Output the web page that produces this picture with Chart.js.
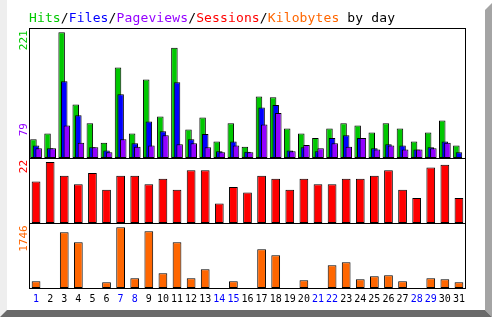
<!DOCTYPE html>
<html>
<head>
<meta charset="utf-8">
<script src="https://cdn.jsdelivr.net/npm/chart.js@4/dist/chart.umd.min.js"></script>
<style>
  body { margin: 0; background: #fff; }
  #wrap { position: relative; width: 492px; height: 317px; overflow: hidden; }
  #grafico { display: block; }
  #titulo {
    position: absolute; left: 29px; top: 11px;
    font: 13px "DejaVu Sans Mono", monospace; line-height: 13px;
    white-space: pre; letter-spacing: 0.13px; color: #000;
  }
</style>
</head>
<body>
<div id="wrap">
  <canvas id="grafico" width="492" height="317"></canvas>
  <div id="titulo"><span style="color:#00c800">Hits</span>/<span style="color:#0000ff">Files</span>/<span style="color:#9400ff">Pageviews</span>/<span style="color:#ff0000">Sessions</span>/<span style="color:#ff6600">Kilobytes</span> by day</div>
</div>
<script>
// datos
const dias = ["1","2","3","4","5","6","7","8","9","10","11","12","13","14","15","16",
  "17","18","19","20","21","22","23","24","25","26","27","28","29","30","31"];
const finesDeSemana = [1, 7, 8, 14, 15, 21, 22, 28, 29];

const hits = [33, 43, 221, 94, 61, 27, 159, 43, 138, 73, 194, 50, 71, 29, 61, 20,
  108, 107, 52, 43, 35, 52, 61, 57, 45, 61, 52, 29, 45, 66, 22];
const files = [22, 17, 135, 75, 19, 13, 112, 26, 64, 47, 133, 33, 42, 12, 29, 11,
  89, 93, 13, 19, 12, 35, 40, 35, 17, 24, 22, 15, 19, 29, 10];
const pageviews = [17, 17, 57, 27, 19, 10, 33, 20, 22, 40, 24, 26, 19, 10, 22, 10,
  59, 79, 12, 23, 17, 26, 20, 35, 15, 22, 15, 15, 17, 27, 0];
const sessions = [15, 22, 17, 14, 18, 12, 17, 17, 14, 16, 12, 19, 19, 7, 13, 11,
  17, 16, 12, 16, 14, 14, 16, 16, 17, 19, 12, 9, 20, 21, 9];
const kilobytes = [193, 0, 1603, 1315, 0, 164, 1746, 279, 1632, 423, 1315, 279, 538, 0, 193, 0,
  1114, 941, 0, 222, 0, 653, 740, 250, 337, 366, 193, 0, 279, 250, 164];

const VERDE = "#00c800", AZUL = "#0000ff", MORADO = "#9400ff", ROJO = "#ff0000", NARANJA = "#ff6600";

// marco gris tipo 3D alrededor de la imagen
const marco = {
  id: "marco",
  beforeDraw(chart) {
    const ctx = chart.ctx;
    const poly = (pts, color) => {
      ctx.fillStyle = color;
      ctx.beginPath();
      pts.forEach(([x, y], i) => i ? ctx.lineTo(x, y) : ctx.moveTo(x, y));
      ctx.closePath();
      ctx.fill();
    };
    ctx.save();
    poly([[0, 0], [7, 0], [7, 310], [0, 317]], "#eeeeee");
    poly([[485, 10], [492, 3], [492, 317], [485, 310]], "#a4a4a4");
    poly([[0, 317], [7, 310], [485, 310], [492, 317]], "#6a6a6a");
    ctx.restore();
  }
};

// dibujar las series en orden: hits abajo, pageviews encima
const ordenDibujo = {
  id: "ordenDibujo",
  beforeDatasetsDraw(chart) {
    const metas = chart.getSortedVisibleDatasetMetas().slice().sort((a, b) => a.index - b.index);
    metas.forEach(m => m.controller.draw());
    return false;
  }
};

// bordes negros de los tres paneles
const paneles = {
  id: "paneles",
  afterDraw(chart) {
    const ctx = chart.ctx;
    const a = chart.chartArea;
    ctx.save();
    ctx.strokeStyle = "#000";
    ctx.lineWidth = 1;
    ["yTop", "yMid", "yBot"].forEach(id => {
      const s = chart.scales[id];
      ctx.strokeRect(a.left + 0.5, s.top + 0.5, a.right - a.left - 1, s.bottom - s.top);
    });
    ctx.restore();
  }
};

// etiquetas verticales con el valor maximo de cada serie
const maximos = {
  id: "maximos",
  afterDraw(chart) {
    const ctx = chart.ctx;
    const etiquetas = [
      { valor: Math.max(...hits), color: VERDE, eje: "yTop", ajuste: -2 },
      { valor: Math.max(...pageviews), color: MORADO, eje: "yTop", ajuste: 10 },
      { valor: Math.max(...sessions), color: ROJO, eje: "yMid", ajuste: -2 },
      { valor: Math.max(...kilobytes), color: NARANJA, eje: "yBot", ajuste: -2 }
    ];
    ctx.save();
    ctx.font = '11px "DejaVu Sans Mono", monospace';
    ctx.textAlign = "right";
    ctx.textBaseline = "alphabetic";
    etiquetas.forEach(e => {
      const y = chart.scales[e.eje].getPixelForValue(e.valor) + e.ajuste;
      ctx.save();
      ctx.translate(27, y);
      ctx.rotate(-Math.PI / 2);
      ctx.fillStyle = e.color;
      ctx.fillText(String(e.valor), 0, 0);
      ctx.restore();
    });
    ctx.restore();
  }
};

const barrasDia = { borderColor: "#000", borderWidth: 1, borderSkipped: false,
  categoryPercentage: 0.555, barPercentage: 2.5, yAxisID: "yTop" };
const barrasSolas = { borderColor: "#000", borderWidth: 1, borderSkipped: false,
  grouped: false, categoryPercentage: 1, barPercentage: 0.62 };

new Chart(document.getElementById("grafico"), {
  type: "bar",
  data: {
    labels: dias,
    datasets: [
      { ...barrasDia, label: "Hits", data: hits, backgroundColor: VERDE },
      { ...barrasDia, label: "Files", data: files, backgroundColor: AZUL },
      { ...barrasDia, label: "Pageviews", data: pageviews, backgroundColor: MORADO },
      { ...barrasSolas, label: "Sessions", data: sessions, backgroundColor: ROJO, yAxisID: "yMid" },
      { ...barrasSolas, label: "Kilobytes", data: kilobytes, backgroundColor: NARANJA, yAxisID: "yBot" }
    ]
  },
  options: {
    responsive: false,
    animation: false,
    devicePixelRatio: 1,
    layout: { padding: { top: 28, left: 29, right: 26, bottom: 0 } },
    plugins: { legend: { display: false }, title: { display: false }, tooltip: { enabled: false } },
    scales: {
      x: {
        grid: { display: false, drawTicks: false },
        border: { display: false },
        ticks: {
          autoSkip: false, maxRotation: 0, minRotation: 0, padding: 5,
          font: { family: '"DejaVu Sans Mono", monospace', size: 10 },
          color: c => finesDeSemana.includes(c.index + 1) ? "#0000ff" : "#000"
        },
        afterFit: s => { s.height = 29; }
      },
      yTop: { display: false, stack: "dia", stackWeight: 2, weight: 3, min: 0, max: 228.6 },
      yMid: { display: false, stack: "dia", stackWeight: 1, weight: 2, min: 0, max: 23.44 },
      yBot: { display: false, stack: "dia", stackWeight: 1, weight: 1, min: 0, max: 1870 }
    }
  },
  plugins: [marco, ordenDibujo, paneles, maximos]
});
</script>
</body>
</html>
